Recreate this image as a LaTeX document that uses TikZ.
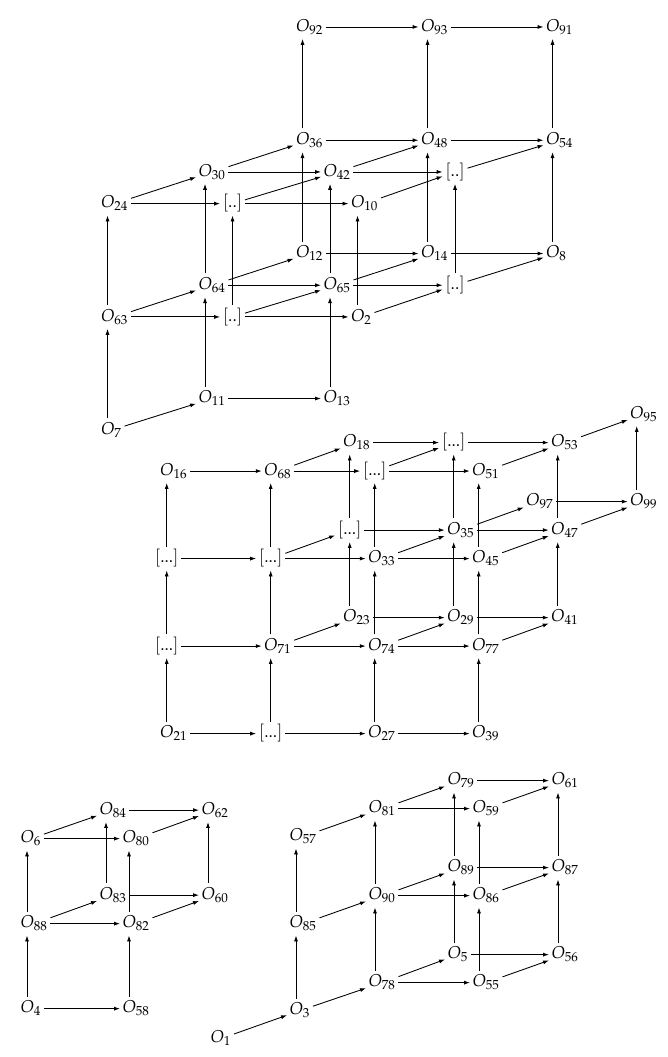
\documentclass[tikz,border=0pt]{standalone}
\usepackage{mathpazo}
\usetikzlibrary{arrows.meta}

\newlength\owd
\newlength\oht
\tikzset{
  ob/.style={anchor=base west, font=\fontsize{11pt}{13pt}\selectfont, inner xsep=1.5pt, inner ysep=2pt,
    text height=8pt, text depth=2.7pt, xshift=-1.5pt-0.5*\owd, yshift=-0.5*\oht},
  dt/.style={anchor=base, font=\fontsize{11pt}{13pt}\selectfont, inner xsep=1.5pt, inner ysep=2pt,
    text height=8pt, text depth=2.7pt, yshift=-0.5*\oht},
}

\begin{document}
\begin{tikzpicture}[>={Latex[length=3.8pt,width=2.6pt]}, line width=.55pt]
\settowidth{\owd}{\fontsize{11pt}{13pt}\selectfont$O$}\settoheight{\oht}{\fontsize{11pt}{13pt}\selectfont$O$}
\useasboundingbox (0,0) rectangle (15.0075,-23.7825);

% upper block
\begin{scope}[shift={(2.419,-7.0875)}, x={(2.8125cm,0cm)}, y={(0cm,2.549cm)}, z={(2.194cm,0.713cm)}]
  \foreach \n/\i/\j/\k in {7/0/-1/0, 11/0/-1/1, 13/1/-1/1, 63/0/0/0, 2/2/0/0, 64/0/0/1, 65/1/0/1,
      12/0/0/2, 14/1/0/2, 8/2/0/2, 24/0/1/0, 10/2/1/0, 30/0/1/1, 42/1/1/1, 36/0/1/2, 48/1/1/2,
      54/2/1/2, 92/0/2/2, 93/1/2/2, 91/2/2/2}
    {\coordinate (po\n) at (\i,\j,\k); \node[ob] (o\n) at (po\n) {$O_{\n}$};}
  \foreach \n/\i/\j/\k in {a/1/0/0, b/2/0/1, c/1/1/0, d/2/1/1}
    {\coordinate (pd\n) at (\i,\j,\k); \node[dt] (d\n) at (pd\n) {$[..]$};}
\end{scope}

% middle block
\begin{scope}[shift={(3.751,-16.463)}, x={(2.34cm,0cm)}, y={(0cm,1.969cm)}, z={(1.7775cm,0.641cm)}]
  \foreach \n/\i/\j/\k in {21/0/0/0, 27/2/0/0, 39/3/0/0, 71/1/1/0, 74/2/1/0, 77/3/1/0, 23/1/1/1,
      29/2/1/1, 41/3/1/1, 33/2/2/0, 45/3/2/0, 35/2/2/1, 47/3/2/1, 97/2/2/2, 99/3/2/2, 16/0/3/0,
      68/1/3/0, 51/3/3/0, 18/1/3/1, 53/3/3/1, 95/3/3/2}
    {\coordinate (po\n) at (\i,\j,\k); \node[ob] (o\n) at (po\n) {$O_{\n}$};}
  \foreach \n/\i/\j/\k in {e/1/0/0, f/0/1/0, g/0/2/0, h/1/2/0, i/1/2/1, j/2/3/0, k/2/3/1}
    {\coordinate (pd\n) at (\i,\j,\k); \node[dt] (d\n) at (pd\n) {$[...]$};}
\end{scope}

% lower left block
\begin{scope}[shift={(0.6075,-22.651)}, x={(2.295cm,0cm)}, y={(0cm,1.9125cm)}, z={(1.7775cm,0.641cm)}]
  \foreach \n/\i/\j/\k in {4/0/0/0, 58/1/0/0, 88/0/1/0, 82/1/1/0, 83/0/1/1, 60/1/1/1, 6/0/2/0,
      80/1/2/0, 84/0/2/1, 62/1/2/1}
    {\coordinate (po\n) at (\i,\j,\k); \node[ob] (o\n) at (po\n) {$O_{\n}$};}
\end{scope}

% lower right block
\begin{scope}[shift={(4.8825,-23.326)}, x={(2.34cm,0cm)}, y={(0cm,1.9575cm)}, z={(1.7775cm,0.63cm)}]
  \foreach \n/\i/\j/\k in {1/0/0/0, 3/0/0/1, 78/0/0/2, 5/0/0/3, 55/1/0/2, 56/1/0/3, 85/0/1/1,
      90/0/1/2, 89/0/1/3, 86/1/1/2, 87/1/1/3, 57/0/2/1, 81/0/2/2, 79/0/2/3, 59/1/2/2, 61/1/2/3}
    {\coordinate (po\n) at (\i,\j,\k); \node[ob] (o\n) at (po\n) {$O_{\n}$};}
\end{scope}

% flat and slanted arrows
\foreach \a/\b in {o7/o11, o11/o13, o63/da, da/o2, o63/o64, da/o65, o2/db, o64/o65, o65/db,
    o64/o12, o65/o14, db/o8, o12/o14, o14/o8, o24/dc, dc/o10, o24/o30, dc/o42, o10/dd, o30/o42,
    o42/dd, o30/o36, o42/o48, dd/o54, o36/o48, o48/o54, o92/o93, o93/o91,
    o21/de, de/o27, o27/o39, df/o71, o71/o74, o74/o77, o71/o23, o74/o29, o77/o41, o23/o29,
    o29/o41, dg/dh, dh/o33, o33/o45, dh/di, o33/o35, o45/o47, di/o35, o35/o47, o35/o97,
    o47/o99, o97/o99, o16/o68, o68/dj, dj/o51, o68/o18, dj/dk, o51/o53, o18/dk, dk/o53, o53/o95,
    o4/o58, o88/o82, o88/o83, o82/o60, o83/o60, o6/o80, o6/o84, o80/o62, o84/o62,
    o1/o3, o3/o78, o78/o5, o78/o55, o5/o56, o55/o56, o85/o90, o90/o89, o90/o86, o89/o87,
    o86/o87, o57/o81, o81/o79, o81/o59, o79/o61, o59/o61}
  \draw[->] (\a) -- (\b);

% upward arrows
\foreach \a/\b in {o7/o63, o11/o64, o13/o65, o63/o24, da/dc, o2/o10, o64/o30, o65/o42, db/dd,
    o12/o36, o14/o48, o8/o54, o36/o92, o48/o93, o54/o91,
    o21/df, de/o71, o27/o74, o39/o77, df/dg, o71/dh, o74/o33, o77/o45, o23/di, o29/o35,
    o41/o47, dg/o16, dh/o68, o33/dj, o45/o51, di/o18, o35/dk, o47/o53, o99/o95,
    o4/o88, o58/o82, o88/o6, o82/o80, o83/o84, o60/o62,
    o3/o85, o85/o57, o78/o90, o90/o81, o5/o89, o89/o79, o55/o86, o86/o59, o56/o87, o87/o61}
  \draw[->] (p\a |- \a.north) -- (p\b |- \b.south);
\end{tikzpicture}
\end{document}
